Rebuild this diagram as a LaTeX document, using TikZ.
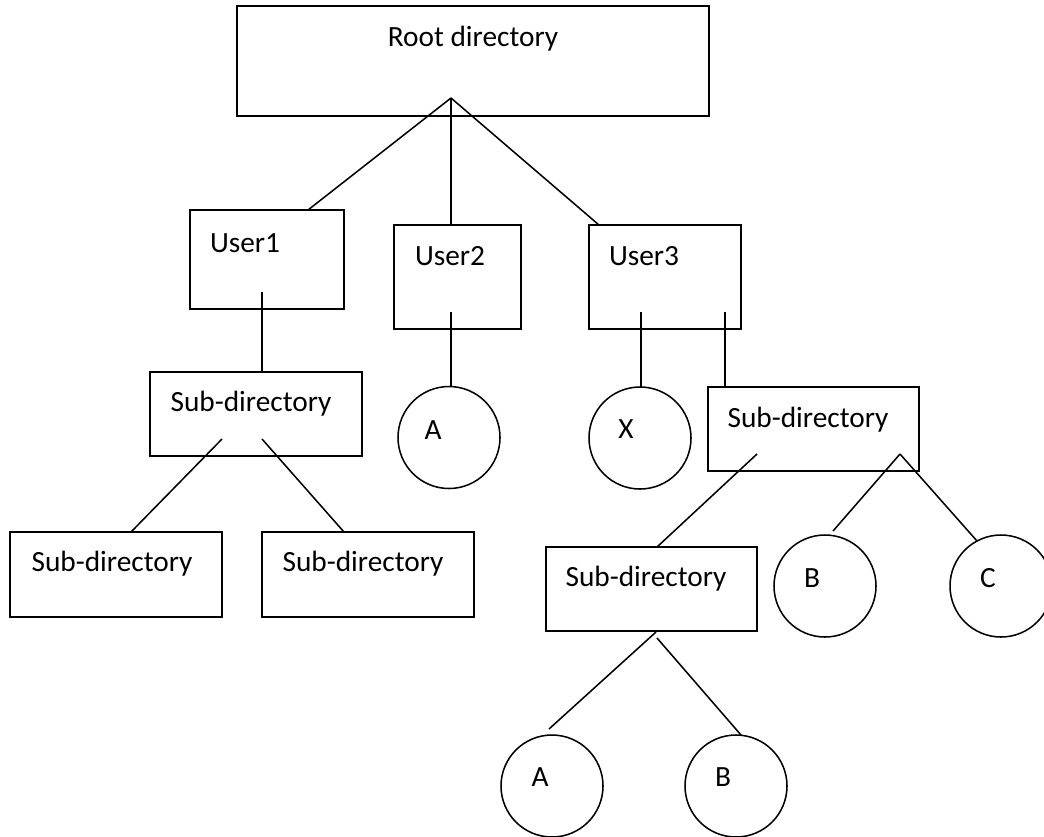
\documentclass[tikz,border=0pt]{standalone}
\usepackage{fontspec}
\setmainfont{Carlito}
\newcommand{\pxu}{0.75pt}
\begin{document}
\begin{tikzpicture}[x=0.75pt,y=-0.75pt,
  line width=1.15pt,
  box/.style={draw, rectangle, inner sep=0pt, outer sep=0pt},
  filec/.style={draw, circle, inner sep=0pt, outer sep=0pt, minimum size=102*\pxu},
  lbl/.style={anchor=base, inner sep=0pt, font=\fontsize{22}{26}\selectfont}]
\useasboundingbox (0,0) rectangle (1044,836);
% boxes
\node[box, minimum width=472*\pxu, minimum height=110*\pxu] (root) at (473,61) {};
\node[box, minimum width=154*\pxu, minimum height=99*\pxu] (u1) at (267,259.5) {};
\node[box, minimum width=127*\pxu, minimum height=104*\pxu] (u2) at (457.5,277) {};
\node[box, minimum width=152*\pxu, minimum height=104*\pxu] (u3) at (665,277) {};
\node[box, minimum width=212*\pxu, minimum height=84*\pxu] (s1) at (256,414) {};
\node[box, minimum width=212*\pxu, minimum height=85*\pxu] (sl) at (116,574.5) {};
\node[box, minimum width=212*\pxu, minimum height=85*\pxu] (sm) at (368,574.5) {};
\node[box, minimum width=211*\pxu, minimum height=84*\pxu] (sr) at (813.5,429) {};
\node[box, minimum width=211*\pxu, minimum height=84*\pxu] (sd) at (651.5,589) {};
% circles
\node[filec] (ca1) at (449,437.5) {};
\node[filec] (cx) at (640,438) {};
\node[filec] (cb1) at (825,586) {};
\node[filec] (cc) at (1001,586) {};
\node[filec] (ca2) at (552,786) {};
\node[filec] (cb2) at (736,786) {};
% labels
\node[lbl] (troot) at (473,46) {Root directory};
\node[lbl] (tu1) at (245,252) {User1};
\node[lbl] (tu2) at (450,265) {User2};
\node[lbl] (tu3) at (644,265) {User3};
\node[lbl] (ts1) at (251,411) {Sub-directory};
\node[lbl] (tsl) at (112,571) {Sub-directory};
\node[lbl] (tsm) at (363,571) {Sub-directory};
\node[lbl] (tsr) at (808,427) {Sub-directory};
\node[lbl] (tsd) at (646,586) {Sub-directory};
\node[lbl] (ta1) at (433,439) {A};
\node[lbl] (tx) at (626,438) {X};
\node[lbl] (tb1) at (812,587) {B};
\node[lbl] (tc) at (988,587) {C};
\node[lbl] (ta2) at (540,786) {A};
\node[lbl] (tb2) at (723,786) {B};
% connector points
\coordinate (ra) at (451,98);
\coordinate (u1a) at (262,292);
\coordinate (u2a) at (451,312);
\coordinate (u3a) at (641,312);
\coordinate (u3b) at (725,312);
\coordinate (s1a) at (222,439);
\coordinate (s1b) at (262,439);
\coordinate (sra) at (757,454);
\coordinate (srb) at (900,454);
\coordinate (sda) at (656,632);
\coordinate (sdb) at (657,638);
\coordinate (cb1e) at (833,531);
\coordinate (cce) at (977,541);
\coordinate (ca2e) at (549,729);
\coordinate (cb2e) at (741,735);
% connectors
\draw (ra) -- (u1.north west -| 308,0);
\draw (ra) -- (u2.north -| ra);
\draw (ra) -- (u3.north west -| 599,0);
\draw (u1a) -- (s1.north -| u1a);
\draw (s1a) -- (sl.north west -| 131,0);
\draw (s1b) -- (sm.north west -| 344,0);
\draw (u2a) -- (ca1.north -| u2a);
\draw (u3a) -- (cx.north -| u3a);
\draw (u3b) -- (sr.north -| u3b);
\draw (sra) -- (sd.north west -| 657,0);
\draw (srb) -- (cb1e);
\draw (srb) -- (cce);
\draw (sda) -- (ca2e);
\draw (sdb) -- (cb2e);
\end{tikzpicture}
\end{document}
